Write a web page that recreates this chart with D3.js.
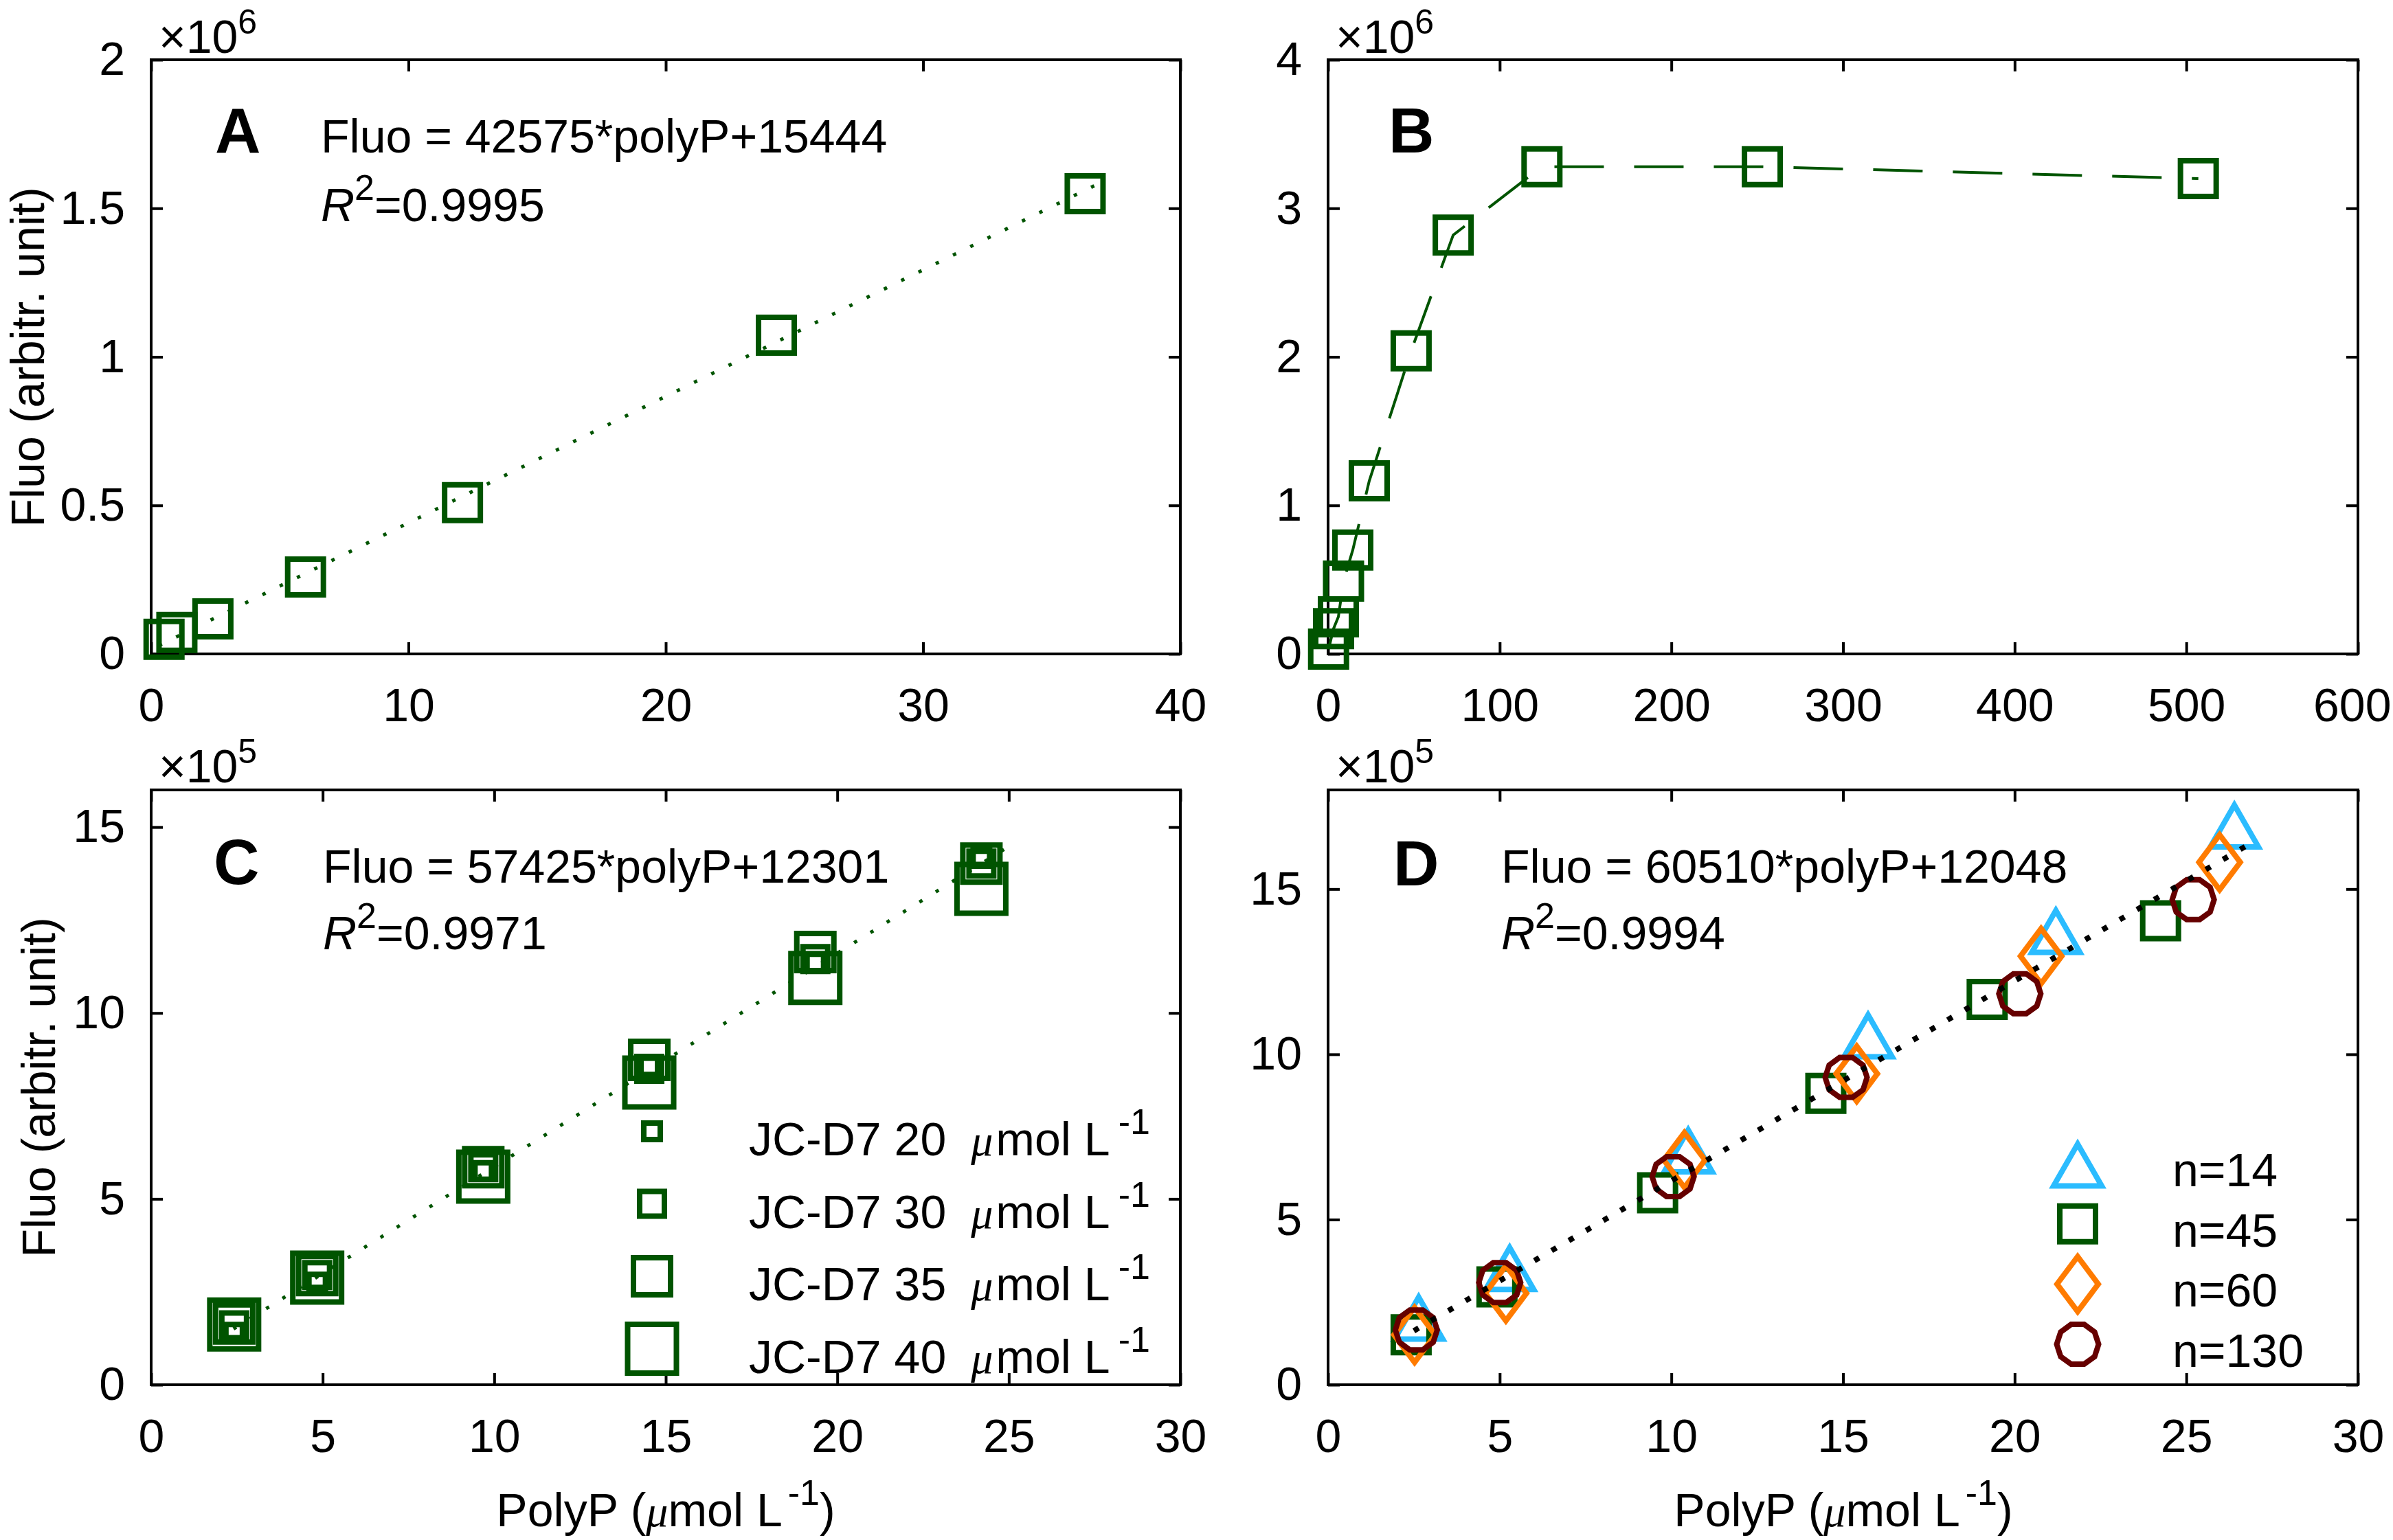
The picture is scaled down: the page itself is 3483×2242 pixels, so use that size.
<!DOCTYPE html>
<html><head><meta charset="utf-8">
<script src="https://cdn.jsdelivr.net/npm/d3@7"></script>
<style>body{margin:0;background:#fff}</style>
</head><body>
<svg id="chart" width="3483" height="2242" xmlns="http://www.w3.org/2000/svg"></svg>
<script>
// ---------------- DATA ----------------
// Panel A (y in 1e6)
const aX = [0.5, 1.0, 2.4, 6.0, 12.1, 24.3, 36.3];
const aY = [0.049, 0.072, 0.118, 0.259, 0.509, 1.073, 1.549];
const aFit = [42575, 15444];          // slope, intercept (from the equation)
const aFitRange = [0.3, 36.8];
const aXTicks = [0, 10, 20, 30, 40];
const aYTicks = [0, 0.5, 1, 1.5, 2];

// Panel B (y in 1e6)
const bX = [0.3, 3.2, 6.0, 9.0, 14.4, 24.0, 48.4, 72.9, 124.6, 253, 507];
const bY = [0.032, 0.17, 0.25, 0.49, 0.70, 1.165, 2.04, 2.82, 3.28, 3.28, 3.20];
const bXTicks = [0, 100, 200, 300, 400, 500, 600];
const bYTicks = [0, 1, 2, 3, 4];

// Panel C (y in 1e5)
const cX = [2.42, 4.84, 9.68, 14.52, 19.36, 24.2];
const c20 = [1.40, 2.75, 5.75, 8.57, 11.36, 14.17];
const c30 = [1.60, 2.95, 5.85, 8.50, 11.45, 14.02];
const c35 = [1.65, 2.95, 5.85, 8.74, 11.64, 14.02];
const c40 = [1.62, 2.88, 5.60, 8.13, 10.94, 13.34];
const cNames = ["JC-D7 20", "JC-D7 30", "JC-D7 35", "JC-D7 40"];
const cFit = [57425, 12301];
const cFitRange = [2.4, 25.0];
const cXTicks = [0, 5, 10, 15, 20, 25, 30];
const cYTicks = [0, 5, 10, 15];

// Panel D (y in 1e5)
const d14X = [2.64, 5.29, 10.49, 15.73, 21.2, 26.4];
const d14Y = [2.06, 3.56, 7.12, 10.6, 13.76, 16.95];
const d45X = [2.42, 4.92, 9.6, 14.5, 19.2, 24.25];
const d45Y = [1.51, 2.96, 5.81, 8.82, 11.66, 14.04];
const d60X = [2.52, 5.18, 10.38, 15.4, 20.77, 25.97];
const d60Y = [1.51, 2.77, 6.80, 9.41, 12.97, 15.81];
const d130X = [2.57, 5.0, 10.05, 15.09, 20.15, 25.2];
const d130Y = [1.66, 3.09, 6.30, 9.30, 11.83, 14.68];
const dNames = ["n=14", "n=45", "n=60", "n=130"];
const dFit = [60510, 12048];
const dFitRange = [2.5, 27.0];
const dXTicks = [0, 5, 10, 15, 20, 25, 30];
const dYTicks = [0, 5, 10, 15];

// ---------------- STYLE ----------------
const FONT = "'Liberation Sans', Arial, Helvetica, sans-serif";
const SERIF = "'Liberation Serif', 'DejaVu Serif', serif";
const FS = 68, SUP = 52, SUPSHIFT = 31, TICK = 17, AXW = 4, MW = 8;
const GREEN = "#005400", CYAN = "#2bbcff", ORANGE = "#ff7b00", DRED = "#660000";
const W = 3483, H = 2242;

const svg = d3.select("#chart");
svg.append("rect").attr("width", W).attr("height", H).attr("fill", "#fff");

function rich(parent, x, y, parts, o = {}) {
  const t = parent.append("text").attr("x", x).attr("y", y)
    .attr("font-size", o.size || FS).attr("font-family", FONT)
    .attr("text-anchor", o.anchor || "start").attr("fill", "#000");
  if (o.transform) t.attr("transform", o.transform);
  const supShift = o.supShift || SUPSHIFT, supSize = o.supSize || SUP;
  let shift = 0;
  parts.forEach(p => {
    const s = t.append("tspan").text(p.t);
    const target = p.sup ? -supShift : 0;
    if (target - shift !== 0) s.attr("dy", target - shift);
    shift = target;
    if (p.sup) s.attr("font-size", supSize);
    if (p.it) s.attr("font-style", "italic");
    if (p.serif) s.attr("font-family", SERIF).attr("font-size", p.size || 64);
    if (p.bold) s.attr("font-weight", "bold");
    if (p.dx) s.attr("dx", p.dx);
  });
  return t;
}

function panel(c) {
  const g = svg.append("g");
  const x = d3.scaleLinear().domain(c.xd).range([c.x0, c.x1]);
  const y = d3.scaleLinear().domain(c.yd).range([c.y1, c.y0]);
  const fmt = d3.format("~g");
  const ab = g.append("g").attr("transform", `translate(0,${c.y1})`)
    .call(d3.axisBottom(x).tickValues(c.xt).tickSize(-TICK).tickPadding(50).tickFormat(fmt));
  const at = g.append("g").attr("transform", `translate(0,${c.y0})`)
    .call(d3.axisTop(x).tickValues(c.xt).tickSize(-TICK).tickFormat(""));
  const al = g.append("g").attr("transform", `translate(${c.x0},0)`)
    .call(d3.axisLeft(y).tickValues(c.yt).tickSize(-TICK).tickPadding(38).tickFormat(fmt));
  const ar = g.append("g").attr("transform", `translate(${c.x1},0)`)
    .call(d3.axisRight(y).tickValues(c.yt).tickSize(-TICK).tickFormat(""));
  [ab, at, al, ar].forEach(a => {
    a.select(".domain").remove();
    a.attr("font-size", FS).attr("font-family", FONT);
    a.selectAll("line").attr("stroke", "#000").attr("stroke-width", AXW);
    a.selectAll("text").attr("fill", "#000");
  });
  // keep the last bottom label inside the page edge
  ab.selectAll("text").each(function () {
    const bb = this.getBBox();
    const tx = x(+d3.select(this.parentNode).datum());
    const over = tx + bb.x + bb.width - (W - 3);
    if (over > 0) d3.select(this).attr("x", -over);
  });
  g.append("rect").attr("x", c.x0).attr("y", c.y0)
    .attr("width", c.x1 - c.x0).attr("height", c.y1 - c.y0)
    .attr("fill", "none").attr("stroke", "#000").attr("stroke-width", AXW);
  // exponent label
  rich(g, c.x0 + 11, c.y0 - c.expGap, [{ t: "\u00d710" }, { t: String(c.exp), sup: true }],
    { supShift: 28, supSize: 50 });
  return { g, x, y };
}

const sq = s => `M${-s/2},${-s/2}H${s/2}V${s/2}H${-s/2}Z`;
const tri = () => `M0,-28.5L35,32.5L-35,32.5Z`;
const dia = () => `M0,-40L30,0L0,40L-30,0Z`;
const dec = () => {
  const p = d3.range(10).map(k => {
    const a = k * Math.PI / 5;
    return [30.5 * Math.cos(a), 30.5 * Math.sin(a)];
  });
  return "M" + p.map(q => q.join(",")).join("L") + "Z";
};

function markers(P, xs, ys, path, color) {
  P.g.append("g").selectAll("path").data(xs.map((v, i) => [v, ys[i]])).join("path")
    .attr("transform", d => `translate(${P.x(d[0])},${P.y(d[1])})`)
    .attr("d", path).attr("fill", "none").attr("stroke", color)
    .attr("stroke-width", MW).attr("stroke-linejoin", "miter");
}

function fitLine(P, fit, range, scale, color, w, dash) {
  const pts = range.map(v => [v, (fit[0] * v + fit[1]) / scale]);
  P.g.append("path").attr("d", d3.line().x(d => P.x(d[0])).y(d => P.y(d[1]))(pts))
    .attr("fill", "none").attr("stroke", color).attr("stroke-width", w)
    .attr("stroke-dasharray", dash);
}

function ylabel(x, y) {
  svg.append("text").attr("transform", `translate(${x},${y}) rotate(-90)`)
    .attr("text-anchor", "middle").attr("font-size", FS).attr("font-family", FONT)
    .attr("fill", "#000").text("Fluo (arbitr. unit)");
}
function xlabel(cx, y) {
  rich(svg, cx, y, [{ t: "PolyP (" }, { t: "\u03bc", it: true, serif: true },
    { t: "mol L" }, { t: "-1", sup: true, dx: 8 }, { t: ")" }], { anchor: "middle" });
}

// ---------------- PANEL A ----------------
const A = panel({ x0: 220, x1: 1718, y0: 87, y1: 952, xd: [0, 40], yd: [0, 2],
  xt: aXTicks, yt: aYTicks, exp: 6, expGap: 10 });
fitLine(A, aFit, aFitRange, 1e6, GREEN, 5, "5,23");
markers(A, aX, aY, sq(52), GREEN);
rich(A.g, 313, 222, [{ t: "A", bold: true }], { size: 92 });
rich(A.g, 467, 222, [{ t: "Fluo = 42575*polyP+15444" }]);
rich(A.g, 467, 322, [{ t: "R", it: true }, { t: "2", sup: true }, { t: "=0.9995" }]);
ylabel(64, 520);

// ---------------- PANEL B ----------------
const B = panel({ x0: 1933, x1: 3432, y0: 87, y1: 952, xd: [0, 600], yd: [0, 4],
  xt: bXTicks, yt: bYTicks, exp: 6, expGap: 10 });
B.g.append("path")
  .attr("d", d3.line().x((d, i) => B.x(bX[i])).y((d, i) => B.y(bY[i]))(bX))
  .attr("fill", "none").attr("stroke", GREEN).attr("stroke-width", 4)
  .attr("stroke-dasharray", "72,44");
markers(B, bX, bY, sq(52), GREEN);
rich(B.g, 2021, 222, [{ t: "B", bold: true }], { size: 92 });

// ---------------- PANEL C ----------------
const C = panel({ x0: 220, x1: 1718, y0: 1150, y1: 2016, xd: [0, 30], yd: [0, 16],
  xt: cXTicks, yt: cYTicks, exp: 5, expGap: 11 });
fitLine(C, cFit, cFitRange, 1e5, GREEN, 5, "5,23");
const cSeries = [c20, c30, c35, c40];
const cSizes = [24, 36, 54, 71];
cSeries.forEach((s, i) => markers(C, cX, s, sq(cSizes[i]), GREEN));
rich(C.g, 311, 1287, [{ t: "C", bold: true }], { size: 92 });
rich(C.g, 470, 1285, [{ t: "Fluo = 57425*polyP+12301" }]);
rich(C.g, 470, 1382, [{ t: "R", it: true }, { t: "2", sup: true }, { t: "=0.9971" }]);
cNames.forEach((n, i) => {
  const by = 1682 + i * 105.5;
  C.g.append("path").attr("transform", `translate(949,${by - 35})`).attr("d", sq(cSizes[i]))
    .attr("fill", "none").attr("stroke", GREEN).attr("stroke-width", MW);
  rich(C.g, 1090, by, [{ t: n }, { t: "\u03bc", it: true, serif: true, dx: 36 },
    { t: "mol L", dx: 4 }, { t: "-1", sup: true, dx: 12 }]);
});
ylabel(80, 1583);
xlabel(969, 2222);

// ---------------- PANEL D ----------------
const D = panel({ x0: 1933, x1: 3432, y0: 1150, y1: 2016, xd: [0, 30], yd: [0, 18],
  xt: dXTicks, yt: dYTicks, exp: 5, expGap: 11 });
const dSeries = [[d14X, d14Y, tri(), CYAN], [d45X, d45Y, sq(52), GREEN],
                 [d60X, d60Y, dia(), ORANGE], [d130X, d130Y, dec(), DRED]];
dSeries.forEach(s => markers(D, s[0], s[1], s[2], s[3]));
fitLine(D, dFit, dFitRange, 1e5, "#000", 8, "8,21");
rich(D.g, 2028, 1289, [{ t: "D", bold: true }], { size: 92 });
rich(D.g, 2185, 1285, [{ t: "Fluo = 60510*polyP+12048" }]);
rich(D.g, 2185, 1382, [{ t: "R", it: true }, { t: "2", sup: true }, { t: "=0.9994" }]);
dNames.forEach((n, i) => {
  const by = 1727 + i * 87.7;
  D.g.append("path").attr("transform", `translate(3024,${by - 33})`).attr("d", dSeries[i][2])
    .attr("fill", "none").attr("stroke", dSeries[i][3]).attr("stroke-width", MW)
    .attr("stroke-linejoin", "miter");
  rich(D.g, 3162, by, [{ t: n }]);
});
xlabel(2683, 2222);
</script>
</body></html>
